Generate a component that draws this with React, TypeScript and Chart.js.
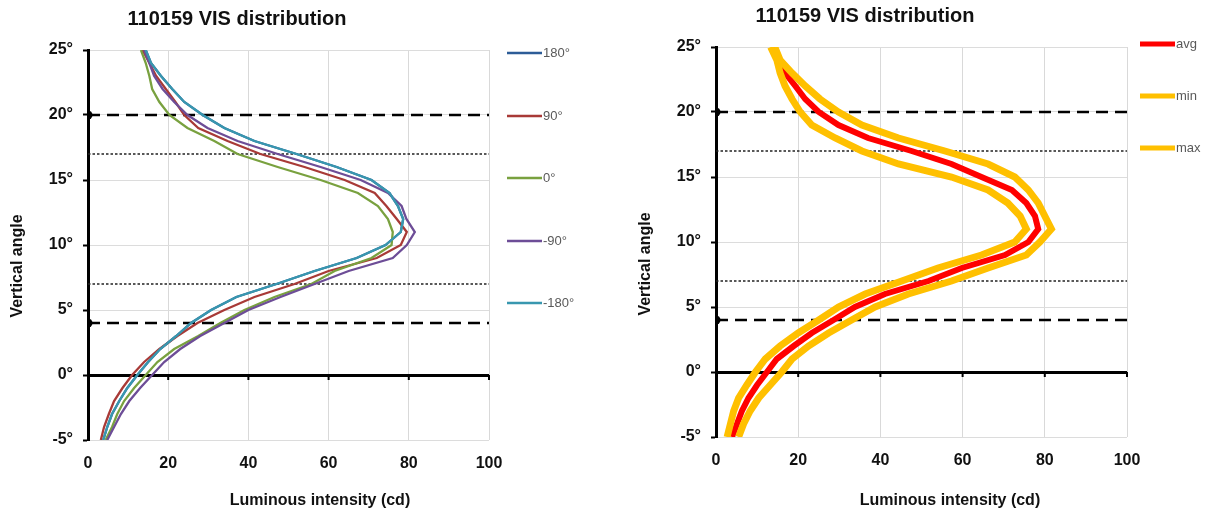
import React, { useEffect, useRef } from "react";
import { Chart, registerables } from "chart.js";

Chart.register(...registerables);

// ---------- data ----------
const ANGLES = [-5, -4, -3, -2, -1, 0, 1, 2, 3, 4, 5, 6, 7, 8, 9, 10, 11, 12, 13, 14, 15, 16, 17, 18, 19, 20, 21, 22, 23, 24, 25];

// left chart: luminous intensity (cd) per azimuth, indexed like ANGLES
const LUM_180 = [3.8, 4.8, 6.0, 7.8, 9.8, 12.3, 15.0, 18.0, 22.0, 25.7, 30.7, 37.0, 47.0, 56.5, 67.0, 74.2, 78.0, 78.6, 77.3, 75.2, 70.7, 62.0, 52.0, 41.5, 34.0, 28.6, 24.0, 21.0, 18.2, 15.7, 14.4];
const LUM_90 = [3.2, 4.0, 5.2, 6.5, 8.6, 11.0, 14.0, 17.8, 22.3, 27.3, 34.0, 41.5, 51.5, 60.0, 72.0, 78.0, 79.5, 77.0, 74.4, 71.5, 64.0, 54.0, 43.0, 34.8, 27.5, 24.0, 21.8, 19.4, 17.0, 15.3, 13.6];
const LUM_0 = [4.4, 6.0, 7.3, 9.0, 11.5, 14.4, 17.3, 21.5, 27.5, 33.0, 39.0, 46.5, 55.7, 61.5, 70.7, 75.7, 76.0, 74.8, 72.3, 67.3, 58.0, 47.3, 37.3, 31.5, 24.8, 20.3, 17.8, 16.0, 15.3, 14.4, 13.2];
const LUM_M90 = [4.8, 6.5, 8.2, 10.3, 13.0, 16.0, 19.0, 23.0, 28.0, 34.0, 40.0, 48.0, 56.5, 65.0, 76.0, 79.5, 81.5, 79.4, 78.2, 74.8, 68.0, 58.0, 47.3, 37.3, 29.8, 24.8, 21.5, 18.6, 16.5, 15.3, 14.0];
const LUM_M180 = [3.8, 4.8, 6.0, 7.8, 9.8, 12.3, 15.0, 18.0, 22.0, 25.7, 30.7, 37.0, 47.0, 56.5, 67.0, 74.2, 78.0, 78.6, 77.3, 75.2, 70.7, 62.0, 52.0, 41.5, 34.0, 28.6, 24.0, 21.0, 18.2, 15.7, 14.4];

// right chart: avg / min / max
const LUM_AVG = [3.9, 5.1, 6.3, 7.9, 10.0, 12.4, 14.8, 18.9, 23.3, 28.6, 33.8, 41.1, 51.7, 59.8, 70.3, 76.0, 78.4, 77.6, 75.5, 72.0, 64.6, 57.3, 47.6, 37.0, 29.8, 25.0, 21.7, 19.3, 16.8, 15.2, 13.9];
const LUM_MIN = [2.7, 3.5, 4.3, 5.5, 7.5, 9.6, 12.0, 15.6, 20.0, 25.0, 29.8, 36.3, 45.2, 54.0, 64.6, 72.7, 75.5, 74.0, 71.0, 66.2, 57.3, 44.4, 35.5, 29.0, 23.3, 20.5, 18.5, 16.8, 15.6, 14.8, 13.3];
const LUM_MAX = [5.5, 6.7, 8.3, 10.4, 13.2, 16.0, 18.5, 22.5, 27.4, 33.0, 38.7, 46.8, 57.3, 66.2, 75.5, 78.8, 81.6, 80.0, 78.4, 76.0, 72.7, 66.2, 55.7, 44.4, 35.5, 29.8, 25.3, 21.7, 18.5, 15.6, 14.3];

const X_TICKS = [0, 20, 40, 60, 80, 100];
const X_RANGE = [0, 100];
const Y_RANGE = [-5, 25];
const DASHED_ANGLES = [20, 4];
const DOTTED_ANGLES = [17, 7];

const CHART_TITLE = "110159 VIS distribution";
const X_TITLE = "Luminous intensity (cd)";
const Y_TITLE = "Vertical angle";
const LEFT_NAMES = ["180°", "90°", "0°", "-90°", "-180°"];
const LEFT_COLORS = ["#2C5C97", "#A83A37", "#79A13F", "#6D4D97", "#3897AF"];
const RIGHT_NAMES = ["avg", "min", "max"];
const RIGHT_COLORS = ["#FF0000", "#FFC000", "#FFC000"];

const FONT = '"Liberation Sans", Arial, sans-serif';

const pts = (vals: number[]) => ANGLES.map((a, i) => ({ x: vals[i], y: a }));

function refLines() {
  const ds: any[] = [];
  DASHED_ANGLES.forEach((a) => {
    ds.push({
      data: [{ x: X_RANGE[0], y: a }, { x: X_RANGE[1], y: a }],
      showLine: true,
      borderColor: "#000",
      borderWidth: 2.5,
      borderDash: [12, 7],
      pointRadius: (c: any) => (c.dataIndex === 0 ? 4.5 : 0),
      pointBackgroundColor: "#000",
      pointBorderWidth: 0,
      order: 20,
    });
  });
  DOTTED_ANGLES.forEach((a) => {
    ds.push({
      data: [{ x: X_RANGE[0], y: a }, { x: X_RANGE[1], y: a }],
      showLine: true,
      borderColor: "#222",
      borderWidth: 1.3,
      borderDash: [2.5, 2],
      pointRadius: 0,
      order: 20,
    });
  });
  return ds;
}

type Layout = {
  width: number;
  left: number;
  right: number;
  top: number;
  bottom: number;
  titleX: number;
  titleY: number;
  xTitleX: number;
  xTitleY: number;
  yTitleX: number;
  yTitleY: number;
  legendX: number;
  legendYs: number[];
  legendWidth: number;
  legendNames: string[];
  legendColors: string[];
};

function overlayPlugin(L: Layout) {
  return {
    id: "overlay",
    afterDraw(chart: any) {
      const ctx = chart.ctx;
      const xs = chart.scales.x;
      const ys = chart.scales.y;
      ctx.save();
      // ticks on the zero line
      const y0 = ys.getPixelForValue(0);
      ctx.strokeStyle = "#000";
      ctx.lineWidth = 2;
      X_TICKS.forEach((v) => {
        if (v === 0) return;
        const px = xs.getPixelForValue(v);
        ctx.beginPath();
        ctx.moveTo(px, y0);
        ctx.lineTo(px, y0 + 5);
        ctx.stroke();
      });
      ctx.fillStyle = "#111";
      ctx.textAlign = "center";
      ctx.textBaseline = "middle";
      ctx.font = `bold 20px ${FONT}`;
      ctx.fillText(CHART_TITLE, L.titleX, L.titleY);
      ctx.font = `bold 16px ${FONT}`;
      ctx.fillText(X_TITLE, L.xTitleX, L.xTitleY);
      ctx.save();
      ctx.translate(L.yTitleX, L.yTitleY);
      ctx.rotate(-Math.PI / 2);
      ctx.fillText(Y_TITLE, 0, 0);
      ctx.restore();
      // legend
      ctx.font = `13px ${FONT}`;
      ctx.textAlign = "left";
      L.legendNames.forEach((n, i) => {
        const y = L.legendYs[i];
        ctx.strokeStyle = L.legendColors[i];
        ctx.lineWidth = L.legendWidth;
        ctx.beginPath();
        ctx.moveTo(L.legendX, y);
        ctx.lineTo(L.legendX + 35, y);
        ctx.stroke();
        ctx.fillStyle = "#595959";
        ctx.fillText(n, L.legendX + 36, y);
      });
      ctx.restore();
    },
  };
}

function makeOptions(L: Layout, h: number) {
  return {
    responsive: false,
    animation: false as const,
    devicePixelRatio: 1,
    layout: { padding: { left: 0, top: L.top, right: L.width - L.right, bottom: 0 } },
    plugins: { legend: { display: false }, title: { display: false }, tooltip: { enabled: false } },
    scales: {
      x: {
        type: "linear" as const,
        min: X_RANGE[0],
        max: X_RANGE[1],
        afterFit: (s: any) => {
          s.height = h - L.bottom;
        },
        border: { display: false },
        grid: { color: "#D9D9D9", lineWidth: 1, drawTicks: false },
        ticks: {
          stepSize: 20,
          padding: 14,
          color: "#111",
          font: { family: FONT, size: 16, weight: "bold" as const },
        },
      },
      y: {
        type: "linear" as const,
        min: Y_RANGE[0],
        max: Y_RANGE[1],
        afterFit: (s: any) => {
          s.width = L.left;
        },
        border: { display: true, color: "#000", width: 3 },
        grid: {
          color: (c: any) => (c.tick && c.tick.value === 0 ? "#000" : "#DCDCDC"),
          lineWidth: (c: any) => (c.tick && c.tick.value === 0 ? 3 : 1),
          tickColor: "#000",
          tickLength: 5,
          tickWidth: 2,
        },
        ticks: {
          stepSize: 5,
          padding: 10,
          color: "#111",
          callback: (v: any) => `${v}°`,
          font: { family: FONT, size: 16, weight: "bold" as const },
        },
      },
    },
  };
}

const H = 515;

const LEFT_LAYOUT: Layout = {
  width: 600,
  left: 88,
  right: 489,
  top: 50,
  bottom: 440,
  titleX: 237,
  titleY: 19,
  xTitleX: 320,
  xTitleY: 501,
  yTitleX: 18,
  yTitleY: 266,
  legendX: 507,
  legendYs: [53, 116, 178, 241, 303],
  legendWidth: 2.5,
  legendNames: LEFT_NAMES,
  legendColors: LEFT_COLORS,
};

const RIGHT_LAYOUT: Layout = {
  width: 605,
  left: 116,
  right: 527,
  top: 47,
  bottom: 437,
  titleX: 265,
  titleY: 16,
  xTitleX: 350,
  xTitleY: 501,
  yTitleX: 46,
  yTitleY: 264,
  legendX: 540,
  legendYs: [44, 96, 148],
  legendWidth: 5,
  legendNames: RIGHT_NAMES,
  legendColors: RIGHT_COLORS,
};

function LeftChart() {
  const ref = useRef<HTMLCanvasElement>(null);
  useEffect(() => {
    if (!ref.current) return;
    const series = [LUM_180, LUM_90, LUM_0, LUM_M90, LUM_M180];
    const datasets: any[] = series.map((s, i) => ({
      label: LEFT_NAMES[i],
      data: pts(s),
      showLine: true,
      borderColor: LEFT_COLORS[i],
      borderWidth: 2.3,
      pointRadius: 0,
      order: 10 - i,
    }));
    const chart = new Chart(ref.current, {
      type: "scatter",
      data: { datasets: [...refLines(), ...datasets] },
      options: makeOptions(LEFT_LAYOUT, H) as any,
      plugins: [overlayPlugin(LEFT_LAYOUT)],
    });
    return () => chart.destroy();
  }, []);
  return <canvas ref={ref} width={600} height={H} style={{ position: "absolute", left: 0, top: 0 }} />;
}

function RightChart() {
  const ref = useRef<HTMLCanvasElement>(null);
  useEffect(() => {
    if (!ref.current) return;
    const series = [LUM_AVG, LUM_MIN, LUM_MAX];
    const widths = [6, 7, 7];
    const datasets: any[] = series.map((s, i) => ({
      label: RIGHT_NAMES[i],
      data: pts(s),
      showLine: true,
      borderColor: RIGHT_COLORS[i],
      borderWidth: widths[i],
      pointRadius: 0,
      order: 10 - i,
    }));
    const chart = new Chart(ref.current, {
      type: "scatter",
      data: { datasets: [...refLines(), ...datasets] },
      options: makeOptions(RIGHT_LAYOUT, H) as any,
      plugins: [overlayPlugin(RIGHT_LAYOUT)],
    });
    return () => chart.destroy();
  }, []);
  return <canvas ref={ref} width={605} height={H} style={{ position: "absolute", left: 600, top: 0 }} />;
}

export default function App() {
  return (
    <div style={{ position: "absolute", left: 0, top: 0, width: 1205, height: H, background: "#fff", overflow: "hidden" }}>
      <LeftChart />
      <RightChart />
    </div>
  );
}
